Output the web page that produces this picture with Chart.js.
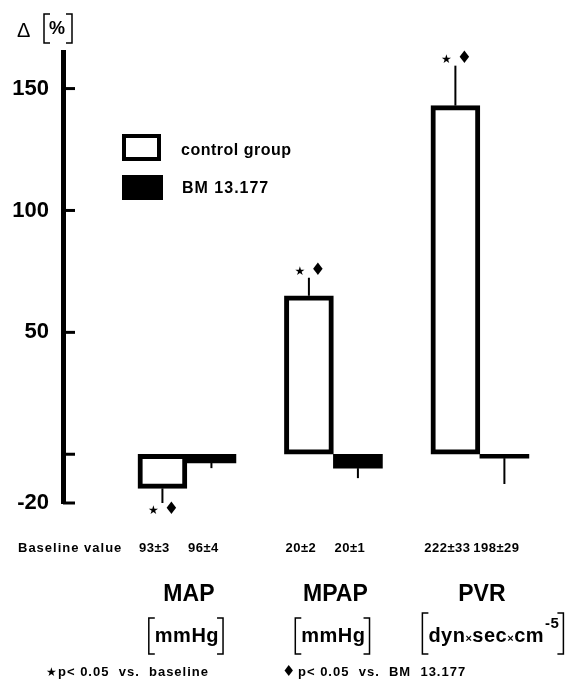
<!DOCTYPE html>
<html>
<head>
<meta charset="utf-8">
<script src="https://cdn.jsdelivr.net/npm/chart.js@4.4.0/dist/chart.umd.min.js"></script>
<style>
  html, body { margin: 0; padding: 0; background: #fff; }
  #wrap { width: 575px; height: 691px; position: relative; }
</style>
</head>
<body>
<div id="wrap"><canvas id="chart"></canvas></div>
<script>
// Datos (cambio en % respecto al valor basal)
const categories = ['MAP', 'MPAP', 'PVR'];
const unitLabels = ['mmHg', 'mmHg', 'dyn×sec×cm-5'];
const seriesNames = ['control group', 'BM 13.177'];
const controlValues = [-14, 65, 143];
const controlErrors = [6, 7.4, 16.4];
const bmValues = [-3.6, -5.7, -1.6];
const bmErrors = [2.1, 4.1, 10.6];
const controlBaseline = ['93±3', '20±2', '222±33'];
const bmBaseline = ['96±4', '20±1', '198±29'];
const yTicks = [-20, 0, 50, 100, 150];

const FONT = "'Liberation Sans', Arial, sans-serif";

const toPoints = vals => vals.map((v, i) => ({ x: i + 1, y: v }));

// Dibuja un corchete vertical
const bracket = (ctx, x, top, bottom, dir) => {
    ctx.beginPath();
    ctx.moveTo(x + dir * 6, top);
    ctx.lineTo(x, top);
    ctx.lineTo(x, bottom);
    ctx.lineTo(x + dir * 6, bottom);
    ctx.stroke();
};

const extrasPlugin = {
    id: 'extras',
    afterDatasetsDraw(chart) {
        const ctx = chart.ctx;
        const yScale = chart.scales.y;
        const xScale = chart.scales.x;
        const errs = [controlErrors, bmErrors];
        ctx.save();

        // Barras de error
        ctx.strokeStyle = '#000';
        ctx.lineWidth = 2;
        chart.data.datasets.forEach((ds, di) => {
            chart.getDatasetMeta(di).data.forEach((bar, i) => {
                const v = ds.data[i].y;
                const sign = v < 0 ? -1 : 1;
                const tip = yScale.getPixelForValue(v + sign * errs[di][i]);
                ctx.beginPath();
                ctx.moveTo(bar.x, bar.y);
                ctx.lineTo(bar.x, tip);
                ctx.stroke();

                // Marcas de significancia solo para el grupo control
                if (di === 0) {
                    const my = tip - sign * 7;
                    ctx.fillStyle = '#000';
                    ctx.textAlign = 'center';
                    ctx.textBaseline = 'middle';
                    ctx.font = `12px 'DejaVu Sans'`;
                    ctx.fillText('★', bar.x - 9, my + 1);
                    ctx.font = `17px 'DejaVu Sans'`;
                    ctx.fillText('♦', bar.x + 9, my);
                }
            });
        });

        // Marcas del eje Y hacia dentro
        ctx.lineWidth = 3;
        yScale.ticks.forEach(t => {
            const py = yScale.getPixelForValue(t.value);
            ctx.beginPath();
            ctx.moveTo(chart.chartArea.left, py);
            ctx.lineTo(chart.chartArea.left + 12, py);
            ctx.stroke();
        });

        // Titulo del eje
        ctx.fillStyle = '#000';
        ctx.textBaseline = 'middle';
        ctx.textAlign = 'left';
        ctx.font = `20px ${FONT}`;
        ctx.fillText('Δ', 17, 31);
        ctx.font = `bold 18px ${FONT}`;
        ctx.fillText('%', 49, 29);
        ctx.lineWidth = 1.5;
        bracket(ctx, 44, 14, 43, 1);
        bracket(ctx, 72, 14, 43, -1);

        // Leyenda
        ctx.lineWidth = 4;
        ctx.fillStyle = '#fff';
        ctx.fillRect(122, 134, 39, 27);
        ctx.strokeRect(124, 136, 35, 23);
        ctx.fillStyle = '#000';
        ctx.fillRect(122, 175, 41, 25);
        ctx.font = `bold 16px ${FONT}`;
        ctx.letterSpacing = '0.5px';
        ctx.fillText(seriesNames[0], 181, 151);
        ctx.letterSpacing = '1px';
        ctx.fillText(seriesNames[1], 182, 189);

        // Valores basales
        ctx.font = `bold 13px ${FONT}`;
        ctx.fillText('Baseline value', 18, 548);
        ctx.textAlign = 'center';
        ctx.letterSpacing = '0.5px';
        [controlBaseline, bmBaseline].forEach((arr, di) => {
            chart.getDatasetMeta(di).data.forEach((bar, i) => {
                ctx.fillText(arr[i], bar.x - 8, 548);
            });
        });

        // Nombres de categoria y unidades
        ctx.letterSpacing = '0px';
        categories.forEach((c, i) => {
            const cx = xScale.getPixelForValue(i + 1);
            ctx.font = `bold 23px ${FONT}`;
            ctx.textAlign = 'center';
            ctx.fillText(c, cx + 2, 595);

            // unidades, con "x" pequenas y exponente
            const parts = unitLabels[i].split('×');
            let exp = '';
            const last = parts[parts.length - 1];
            const m = last.match(/^(.*?)(-\d+)$/);
            if (m) { parts[parts.length - 1] = m[1]; exp = m[2]; }
            const big = `bold 20px ${FONT}`;
            const small = `bold 11px ${FONT}`;
            const sup = `bold 15px ${FONT}`;
            ctx.letterSpacing = '0.5px';
            let w = 0;
            parts.forEach((p, k) => {
                ctx.font = big; w += ctx.measureText(p).width;
                if (k < parts.length - 1) { ctx.font = small; w += ctx.measureText('×').width; }
            });
            ctx.font = sup;
            if (exp) w += ctx.measureText(exp).width + 1;
            const ux = cx + (exp ? 14 : 0);
            let x = ux - w / 2;
            ctx.textAlign = 'left';
            parts.forEach((p, k) => {
                ctx.font = big;
                ctx.fillText(p, x, 636);
                x += ctx.measureText(p).width;
                if (k < parts.length - 1) {
                    ctx.font = small;
                    ctx.fillText('×', x, 639);
                    x += ctx.measureText('×').width;
                }
            });
            if (exp) {
                ctx.font = sup;
                ctx.fillText(exp, x + 1, 624);
                x += ctx.measureText(exp).width + 1;
            }
            ctx.lineWidth = 1.5;
            const top = exp ? 613 : 618;
            bracket(ctx, ux - w / 2 - 6, top, 654, 1);
            bracket(ctx, x + 4, top, 654, -1);
            ctx.letterSpacing = '0px';
        });

        // Nota al pie
        ctx.textAlign = 'left';
        ctx.font = `12px 'DejaVu Sans'`;
        ctx.fillText('★', 46, 673);
        ctx.font = `15px 'DejaVu Sans'`;
        ctx.fillText('♦', 282, 672);
        ctx.font = `bold 13px ${FONT}`;
        ctx.letterSpacing = '1px';
        ctx.fillText('p< 0.05  vs.  baseline', 58, 672);
        ctx.fillText('p< 0.05  vs.  BM  13.177', 298, 672);
        ctx.restore();
    }
};

new Chart(document.getElementById('chart'), {
    type: 'bar',
    data: {
        datasets: [
            {
                label: seriesNames[0],
                data: toPoints(controlValues),
                backgroundColor: '#fff',
                borderColor: '#000',
                borderWidth: 5,
                borderSkipped: false
            },
            {
                label: seriesNames[1],
                data: toPoints(bmValues),
                backgroundColor: '#000',
                borderWidth: 0
            }
        ]
    },
    options: {
        responsive: true,
        maintainAspectRatio: false,
        animation: false,
        devicePixelRatio: 1,
        barThickness: 49,
        layout: { padding: { top: 52, bottom: 188, left: 0, right: 10 } },
        plugins: { legend: { display: false }, tooltip: { enabled: false } },
        scales: {
            x: {
                type: 'linear',
                display: false,
                offset: false,
                min: 0.154,
                max: 3.581
            },
            y: {
                min: -20,
                max: 165,
                afterFit: scale => { scale.width = 63; },
                afterBuildTicks: scale => { scale.ticks = yTicks.map(v => ({ value: v })); },
                grid: { display: false, drawTicks: false },
                border: { display: true, color: '#000', width: 5 },
                ticks: {
                    color: '#000',
                    padding: 14,
                    font: { family: FONT, size: 22, weight: 'bold' },
                    callback: v => (v === 0 ? '' : v)
                }
            }
        }
    },
    plugins: [extrasPlugin]
});
</script>
</body>
</html>
